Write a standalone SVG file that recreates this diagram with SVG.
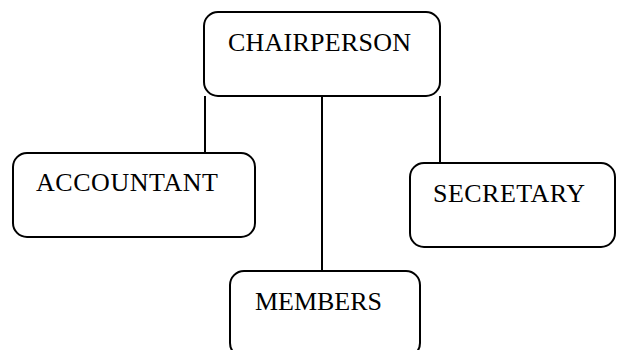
<svg xmlns="http://www.w3.org/2000/svg" width="617" height="350" viewBox="0 0 617 350">
<style>
.box{fill:#fff;stroke:#000;stroke-width:2}
.lbl{font-family:"Liberation Serif","Times New Roman",serif;font-size:26px;fill:#000}
.con{stroke:#000;stroke-width:2;fill:none}
</style>
<rect width="617" height="350" fill="#fff"/>
<g id="connectors">
<line class="con" x1="205" y1="96" x2="205" y2="153"/>
<line class="con" x1="322" y1="96" x2="322" y2="271"/>
<line class="con" x1="440" y1="96" x2="440" y2="163"/>
</g>
<g id="chairperson">
<rect class="box" x="204" y="12" width="236" height="84" rx="14"/>
<text class="lbl" x="228" y="51" textLength="183">CHAIRPERSON</text>
</g>
<g id="accountant">
<rect class="box" x="13" y="153" width="242" height="84" rx="14"/>
<text class="lbl" x="36" y="191" textLength="182">ACCOUNTANT</text>
</g>
<g id="secretary">
<rect class="box" x="410" y="163" width="205" height="84" rx="14"/>
<text class="lbl" x="433" y="202" textLength="152">SECRETARY</text>
</g>
<g id="members">
<rect class="box" x="230" y="271" width="190" height="86" rx="14"/>
<text class="lbl" x="255" y="310" textLength="127">MEMBERS</text>
</g>
</svg>
